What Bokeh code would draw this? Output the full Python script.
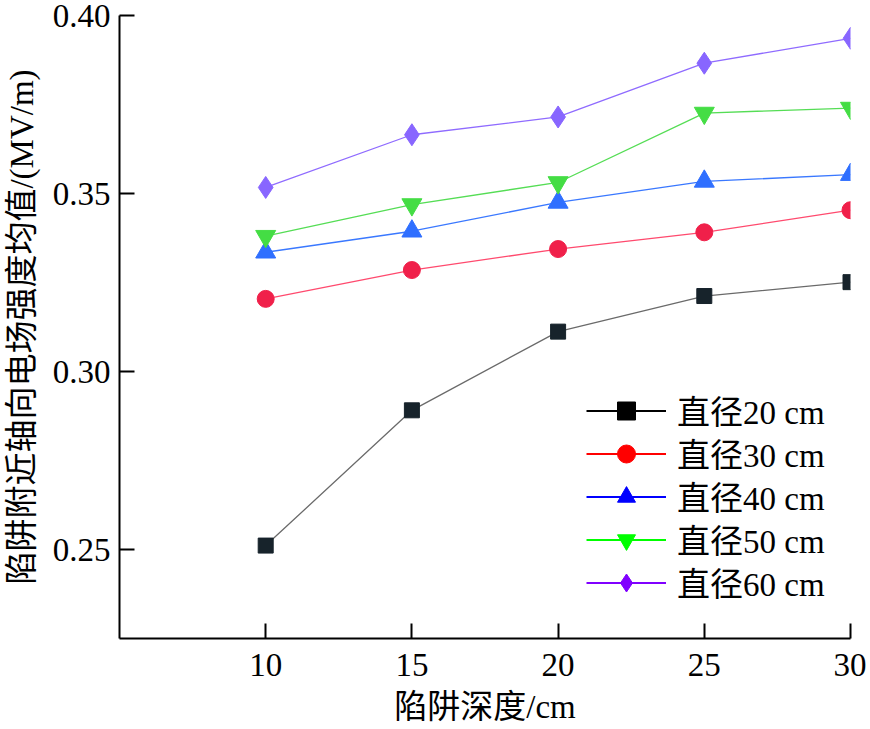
from bokeh.plotting import figure
from bokeh.models import Range1d, FixedTicker, Legend, LegendItem, ColumnDataSource, CustomJSTickFormatter
from bokeh.embed import file_html
from bokeh.resources import INLINE

depth = [10, 15, 20, 25, 30]
d20 = [0.2511, 0.2891, 0.3112, 0.3212, 0.3251]
d30 = [0.3204, 0.3285, 0.3344, 0.3391, 0.3453]
d40 = [0.3335, 0.3394, 0.3475, 0.3534, 0.3553]
d50 = [0.3380, 0.3469, 0.3531, 0.3726, 0.3740]
d60 = [0.3517, 0.3665, 0.3715, 0.3866, 0.3936]
labels = ["直径20 cm", "直径30 cm", "直径40 cm", "直径50 cm", "直径60 cm"]
y_ticks = [0.25, 0.30, 0.35, 0.40]
x_ticks = [10, 15, 20, 25, 30]

FONT = "'Liberation Serif', 'Noto Sans CJK SC'"

p = figure(width=866, height=727, output_backend="svg", toolbar_location=None,
           x_range=Range1d(5, 30), y_range=Range1d(0.225, 0.40),
           min_border_left=118, min_border_top=15, min_border_right=16, min_border_bottom=86)
p.outline_line_color = None
p.grid.grid_line_color = None
p.background_fill_color = "white"

for ax in (p.xaxis[0], p.yaxis[0]):
    ax.major_tick_in = 15
    ax.major_tick_out = 0
    ax.minor_tick_line_color = None
    ax.axis_line_width = 2
    ax.major_tick_line_width = 2
    ax.axis_line_color = "black"
    ax.major_tick_line_color = "black"
    ax.major_label_text_font = FONT
    ax.major_label_text_font_size = "33px"
    ax.major_label_text_color = "black"
    ax.axis_label_text_font = FONT
    ax.axis_label_text_font_size = "33px"
    ax.axis_label_text_font_style = "normal"
    ax.axis_label_text_color = "black"

p.xaxis.ticker = FixedTicker(ticks=x_ticks)
p.yaxis.ticker = FixedTicker(ticks=y_ticks)
p.yaxis.formatter = CustomJSTickFormatter(code="return tick.toFixed(2);")
p.xaxis.axis_label = "陷阱深度/cm"
p.yaxis.axis_label = "陷阱附近轴向电场强度均值/(MV/m)"
p.xaxis.major_label_standoff = 15
p.yaxis.major_label_standoff = 9
p.xaxis.axis_label_standoff = 10
p.yaxis.axis_label_standoff = 10

series = [d20, d30, d40, d50, d60]
line_cols = ["#6a6a6a", "#ff4a6e", "#3a78ff", "#55dd55", "#8f6bff"]
mark_cols = ["#17232b", "#f0204a", "#2f6fff", "#44dd44", "#8866ff"]
markers = ["square", "circle", "triangle", "inverted_triangle", "diamond"]
sizes = [15, 17, 20, 20, 22]

for s, lc, mc, m, sz in zip(series, line_cols, mark_cols, markers, sizes):
    p.line(depth, s, line_color=lc, line_width=1.3)
    p.scatter(depth, s, marker=m, size=sz, fill_color=mc, line_color=mc)

leg_cols = ["black", "#ff0000", "#0000ff", "#00ff00", "#8000ff"]
nan = float("nan")
n = len(labels)
for i, (lab, c, m) in enumerate(zip(labels, leg_cols, markers)):
    src = ColumnDataSource(data=dict(x=[nan], y=[nan]))
    lr = p.line("x", "y", source=src, line_color=c, line_width=2)
    sr = p.scatter("x", "y", source=src, marker=m, size=17, fill_color=c, line_color=c)
    leg = Legend(items=[LegendItem(label=lab, renderers=[lr, sr])],
                 location=(467, 32 + 43 * (n - 1 - i)), padding=0, margin=0,
                 border_line_alpha=0, background_fill_alpha=0,
                 glyph_width=80, glyph_height=45, label_height=34, spacing=0,
                 label_standoff=11, label_text_font=FONT, label_text_font_size="33px",
                 label_text_color="black")
    p.add_layout(leg, "center")

open("out.html", "w").write(file_html(p, INLINE))
